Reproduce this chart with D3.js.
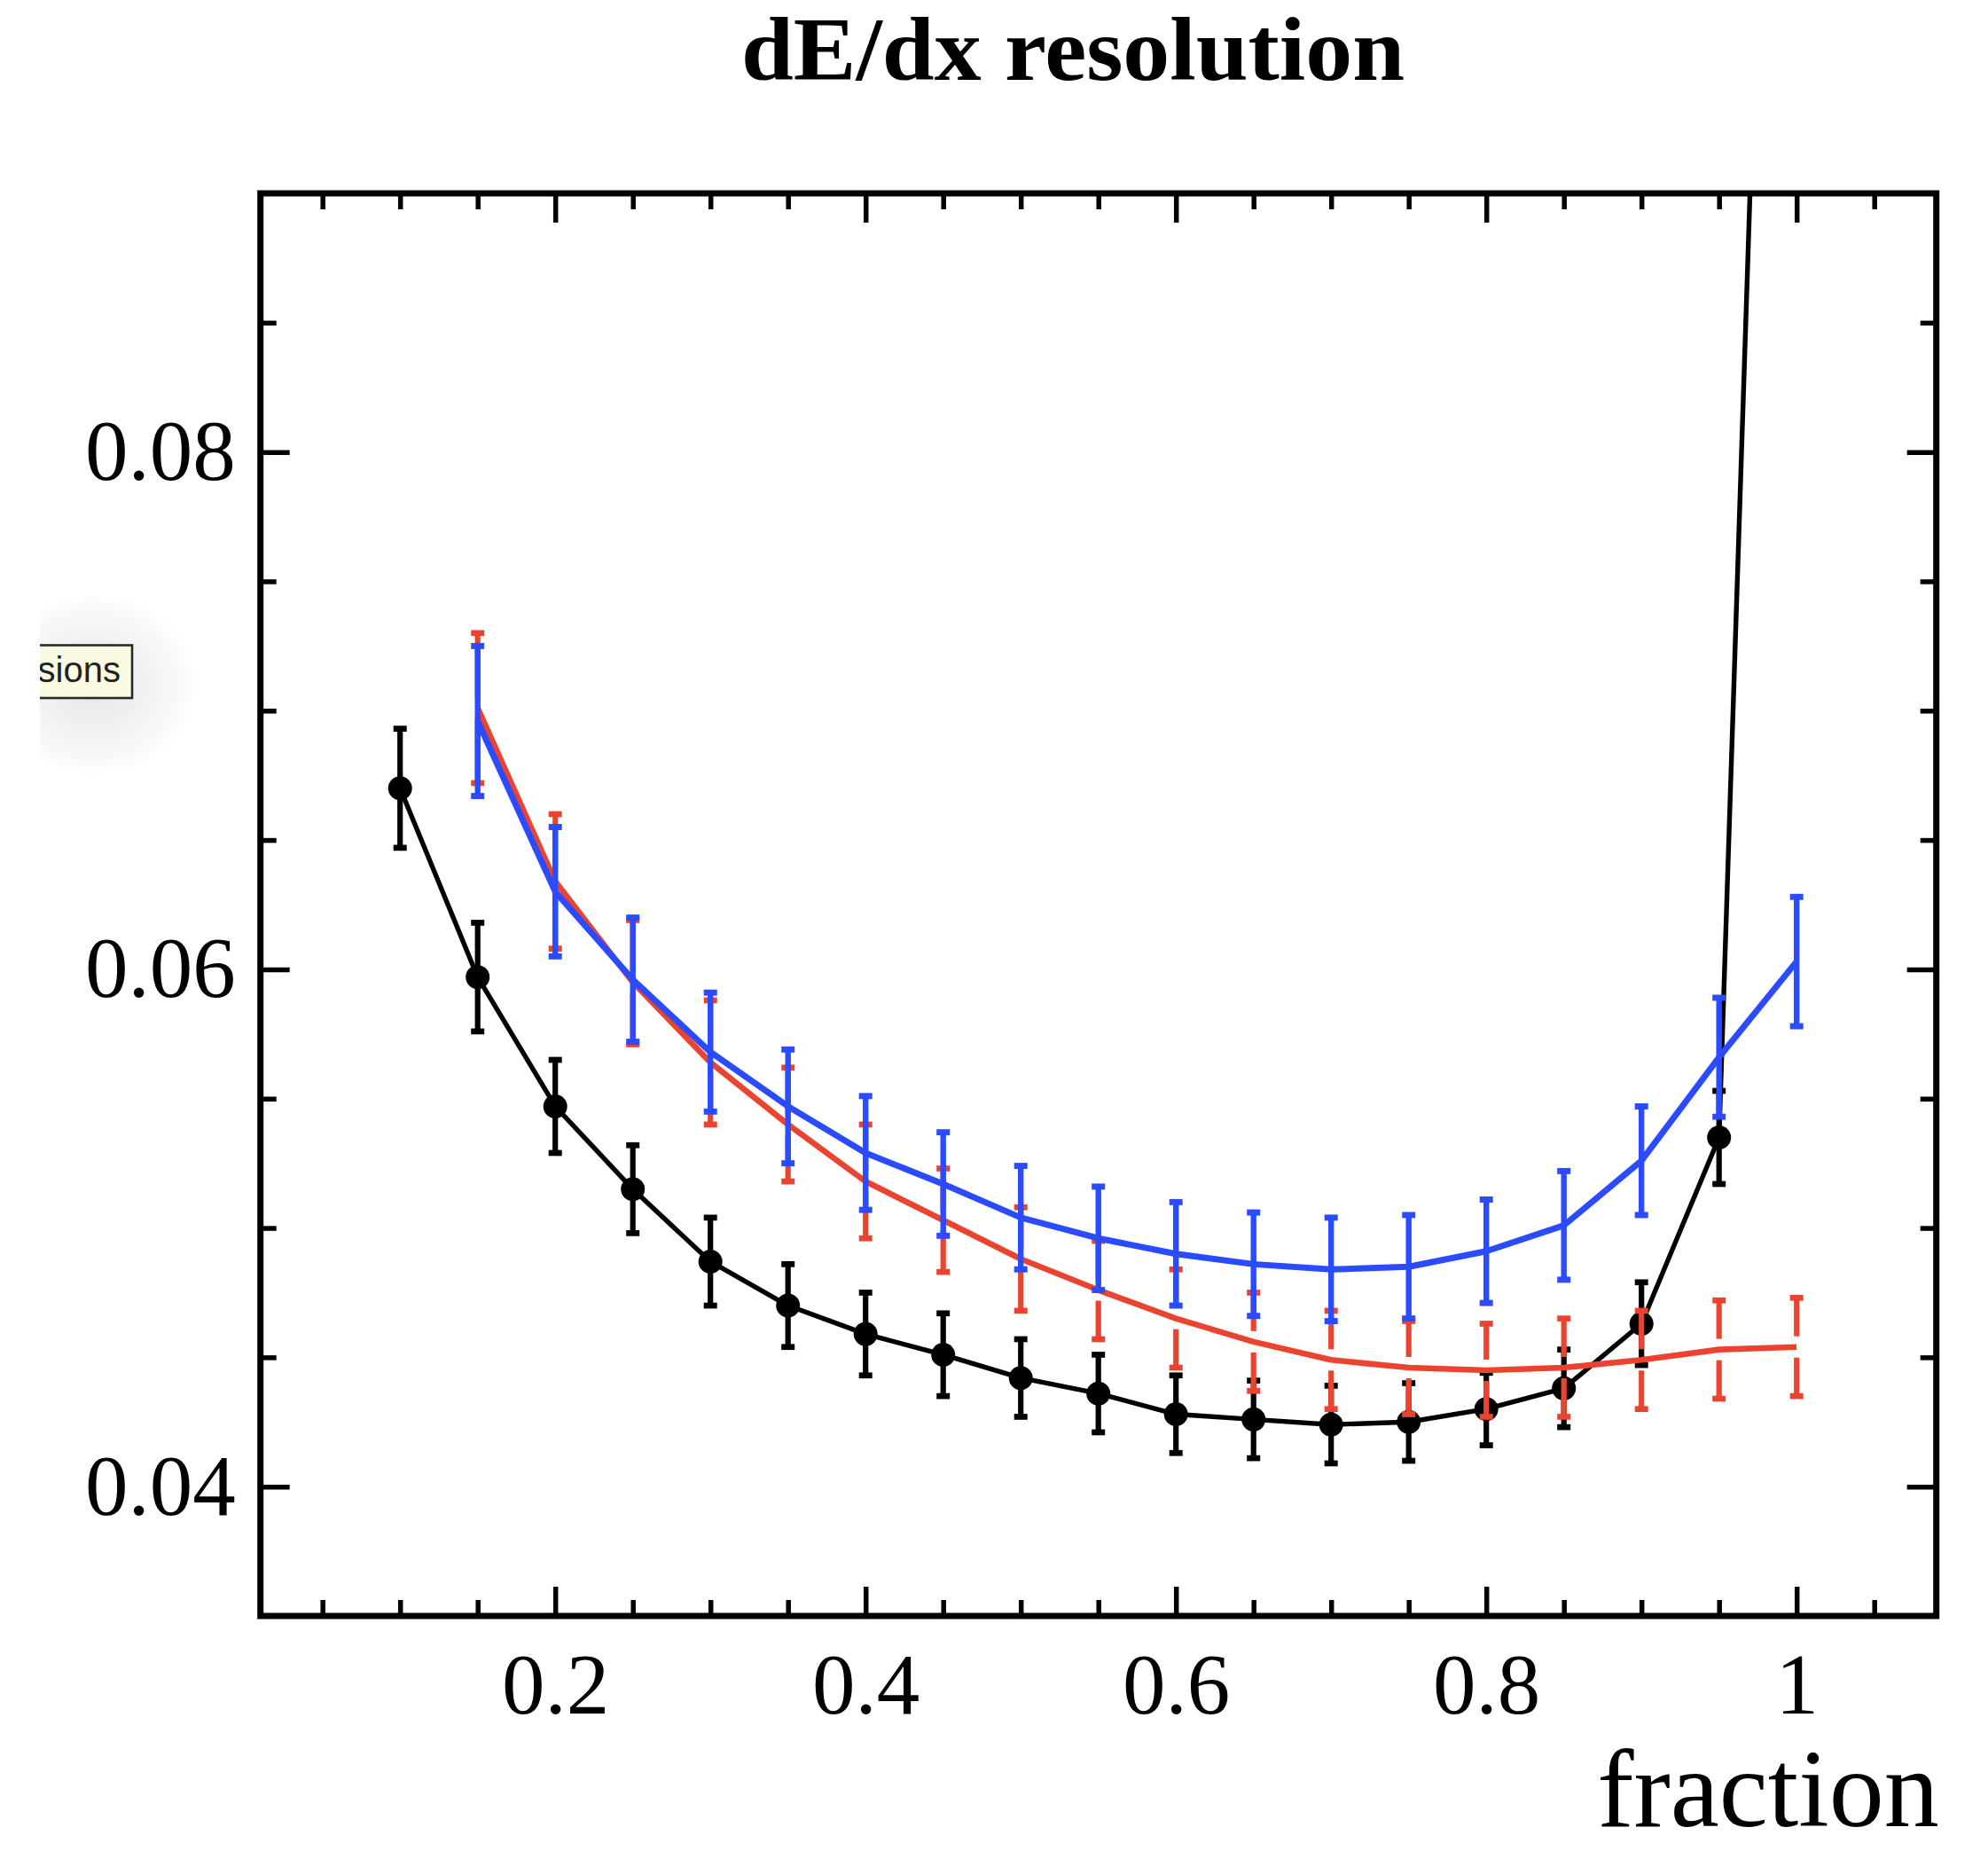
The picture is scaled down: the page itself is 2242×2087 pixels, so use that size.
<!DOCTYPE html>
<html><head><meta charset="utf-8">
<script src="https://cdn.jsdelivr.net/npm/d3@7"></script>
<style>html,body{margin:0;padding:0;background:#fff;}svg{display:block;}</style>
</head><body>
<script>
// ---- data ----
const fractions = [0.10,0.15,0.20,0.25,0.30,0.35,0.40,0.45,0.50,0.55,0.60,0.65,0.70,0.75,0.80,0.85,0.90,0.95,1.00];
const blackValues = [0.0670,0.0597,0.0547,0.0515,0.0487,0.0470,0.0459,0.0451,0.0442,0.0436,0.0428,0.0426,0.0424,0.0425,0.0430,0.0438,0.0463,0.0535,0.145];
const blackErrors = [0.0023,0.0021,0.0018,0.0017,0.0017,0.0016,0.0016,0.0016,0.0015,0.0015,0.0015,0.0015,0.0015,0.0015,0.0014,0.0015,0.0016,0.0018,0.004];
const fractions2 = [0.15,0.20,0.25,0.30,0.35,0.40,0.45,0.50,0.55,0.60,0.65,0.70,0.75,0.80,0.85,0.90,0.95,1.00];
const redValues = [0.0701,0.0634,0.0595,0.0564,0.0540,0.0518,0.0503,0.0488,0.0476,0.0465,0.0456,0.0449,0.0446,0.0445,0.0446,0.0449,0.0453,0.0454];
const redErrors = [0.0029,0.0026,0.0024,0.0024,0.0022,0.0022,0.0020,0.0020,0.0019,0.0019,0.0019,0.0019,0.0018,0.0018,0.0019,0.0019,0.0019,0.0019];
const blueValues = [0.0696,0.0630,0.0596,0.0568,0.0547,0.0529,0.0517,0.0504,0.0496,0.0490,0.0486,0.0484,0.0485,0.0491,0.0501,0.0526,0.0566,0.0603];
const blueErrors = [0.0029,0.0025,0.0024,0.0023,0.0022,0.0022,0.0020,0.0020,0.0020,0.0020,0.0020,0.0020,0.0020,0.0020,0.0021,0.0021,0.0023,0.0025];
const xMajorTicks = [0.2,0.4,0.6,0.8,1.0];
const xTickLabels = ["0.2","0.4","0.6","0.8","1"];
const xMinorTicks = [0.05,0.1,0.15,0.25,0.3,0.35,0.45,0.5,0.55,0.65,0.7,0.75,0.85,0.9,0.95,1.05];
const yMajorTicks = [0.04,0.06,0.08];
const yTickLabels = ["0.04","0.06","0.08"];
const yMinorTicks = [0.045,0.05,0.055,0.065,0.07,0.075,0.085];
const titleText = "dE/dx resolution";
const xAxisTitle = "fraction";
const tooltipText = "sions";

(function () {
// ---- layout ----
const W = 2242, H = 2087;
const pL = 293.7, pR = 2183.7, pT = 218, pB = 1822;
const x = d3.scaleLinear().domain([0.01, 1.09]).range([pL, pR]);
const y = d3.scaleLinear().domain([0.035, 0.09]).range([pB, pT]);

const svg = d3.select("body").append("svg").attr("width", W).attr("height", H);
svg.append("rect").attr("width", W).attr("height", H).attr("fill", "#fff");

const defs = svg.append("defs");
defs.append("clipPath").attr("id", "plotclip").append("rect")
  .attr("x", pL).attr("y", pT).attr("width", pR - pL).attr("height", pB - pT);
const rg = defs.append("radialGradient").attr("id", "shadowGrad");
rg.append("stop").attr("offset", "0%").attr("stop-color", "#e6e6e6");
rg.append("stop").attr("offset", "50%").attr("stop-color", "#f1f1f1");
rg.append("stop").attr("offset", "85%").attr("stop-color", "#fafafa");
rg.append("stop").attr("offset", "100%").attr("stop-color", "#ffffff");

// ---- title ----
svg.append("text").attr("x", 1210).attr("y", 90)
  .attr("text-anchor", "middle")
  .attr("font-family", "'Liberation Serif','Times New Roman',serif")
  .attr("font-weight", "bold").attr("font-size", 102)
  .attr("textLength", 748).attr("lengthAdjust", "spacingAndGlyphs")
  .text(titleText);

// ---- axes ticks (inward, mirrored) ----
function styleTicks(g) {
  g.select(".domain").remove();
  g.selectAll(".tick line").attr("stroke", "#000").attr("stroke-width", 5.5);
  g.selectAll(".tick text").remove();
}
const MAJ = 33, MIN = 18;
svg.append("g").attr("transform", `translate(0,${pB})`)
  .call(d3.axisBottom(x).tickValues(xMajorTicks).tickSize(-MAJ)).call(styleTicks);
svg.append("g").attr("transform", `translate(0,${pB})`)
  .call(d3.axisBottom(x).tickValues(xMinorTicks).tickSize(-MIN)).call(styleTicks);
svg.append("g").attr("transform", `translate(0,${pT})`)
  .call(d3.axisTop(x).tickValues(xMajorTicks).tickSize(-MAJ)).call(styleTicks);
svg.append("g").attr("transform", `translate(0,${pT})`)
  .call(d3.axisTop(x).tickValues(xMinorTicks).tickSize(-MIN)).call(styleTicks);
svg.append("g").attr("transform", `translate(${pL},0)`)
  .call(d3.axisLeft(y).tickValues(yMajorTicks).tickSize(-MAJ)).call(styleTicks);
svg.append("g").attr("transform", `translate(${pL},0)`)
  .call(d3.axisLeft(y).tickValues(yMinorTicks).tickSize(-MIN)).call(styleTicks);
svg.append("g").attr("transform", `translate(${pR},0)`)
  .call(d3.axisRight(y).tickValues(yMajorTicks).tickSize(-MAJ)).call(styleTicks);
svg.append("g").attr("transform", `translate(${pR},0)`)
  .call(d3.axisRight(y).tickValues(yMinorTicks).tickSize(-MIN)).call(styleTicks);

// ---- tick labels ----
function styleLabels(g) {
  g.select(".domain").remove();
  g.selectAll(".tick line").remove();
  g.attr("font-family", null).attr("font-size", null);
  g.selectAll(".tick text").attr("fill", "#000")
    .attr("font-family", "'Liberation Serif','Times New Roman',serif").attr("font-size", 97);
}
svg.append("g").attr("transform", `translate(0,${pB})`)
  .call(d3.axisBottom(x).tickValues(xMajorTicks).tickSize(0).tickPadding(41)
    .tickFormat((d, i) => xTickLabels[i]))
  .call(styleLabels);
svg.append("g").attr("transform", `translate(${pL},0)`)
  .call(d3.axisLeft(y).tickValues(yMajorTicks).tickSize(0).tickPadding(28)
    .tickFormat((d, i) => yTickLabels[i]))
  .call(styleLabels);

svg.append("text").attr("x", pR + 3).attr("y", 2059).attr("text-anchor", "end")
  .attr("font-family", "'Liberation Serif','Times New Roman',serif").attr("font-size", 124)
  .text(xAxisTitle);

// ---- data ----
const plot = svg.append("g").attr("clip-path", "url(#plotclip)");
const line = d3.line().x(d => x(d[0])).y(d => y(d[1]));
const CAP = 7.5;

function drawSeries(xs, vals, errs, color, lw, ew, opts) {
  const g = plot.append("g");
  const pts = xs.map((f, i) => [f, vals[i], errs[i]]);
  g.append("path").datum(pts).attr("d", line).attr("fill", "none")
    .attr("stroke", color).attr("stroke-width", lw).attr("stroke-linejoin", "round");
  const eb = g.append("g").attr("stroke", color).attr("stroke-width", ew);
  pts.forEach(p => {
    const cx = x(p[0]), yh = y(p[1] + p[2]), yl = y(p[1] - p[2]), yc = y(p[1]);
    if (opts.gap) {
      eb.append("line").attr("x1", cx).attr("x2", cx).attr("y1", yh).attr("y2", yc - opts.gap);
      eb.append("line").attr("x1", cx).attr("x2", cx).attr("y1", yc + opts.gap).attr("y2", yl);
    } else {
      eb.append("line").attr("x1", cx).attr("x2", cx).attr("y1", yh).attr("y2", yl);
    }
    eb.append("line").attr("x1", cx - CAP).attr("x2", cx + CAP).attr("y1", yh).attr("y2", yh).attr("stroke-width", ew + 0.5);
    eb.append("line").attr("x1", cx - CAP).attr("x2", cx + CAP).attr("y1", yl).attr("y2", yl).attr("stroke-width", ew + 0.5);
  });
  if (opts.marker) {
    g.selectAll("circle").data(pts).join("circle")
      .attr("cx", d => x(d[0])).attr("cy", d => y(d[1])).attr("r", opts.marker).attr("fill", color);
  }
}
drawSeries(fractions, blackValues, blackErrors, "#000000", 5.4, 6.2, {marker: 13.5});
drawSeries(fractions2, redValues, redErrors, "#ea4430", 6.6, 6.2, {gap: 12});
drawSeries(fractions2, blueValues, blueErrors, "#2a4bff", 7, 6.4, {});

// ---- frame ----
svg.append("rect").attr("x", pL).attr("y", pT).attr("width", pR - pL).attr("height", pB - pT)
  .attr("fill", "none").attr("stroke", "#000").attr("stroke-width", 7);

// ---- tooltip remnant ----
const tip = svg.append("g");
tip.append("ellipse").attr("cx", 105).attr("cy", 772).attr("rx", 118).attr("ry", 104).attr("fill", "url(#shadowGrad)");
tip.append("rect").attr("x", 10).attr("y", 727.5).attr("width", 139).attr("height", 59.5)
  .attr("fill", "#fbfbe3").attr("stroke", "#2a2a2a").attr("stroke-width", 2.6);
tip.append("text").attr("x", 136).attr("y", 769).attr("text-anchor", "end")
  .attr("font-family", "'Liberation Sans',Arial,sans-serif").attr("font-size", 40).attr("fill", "#222")
  .text(tooltipText);
svg.append("rect").attr("x", 0).attr("y", 0).attr("width", 45).attr("height", H).attr("fill", "#fff");
})();
</script>
</body></html>
